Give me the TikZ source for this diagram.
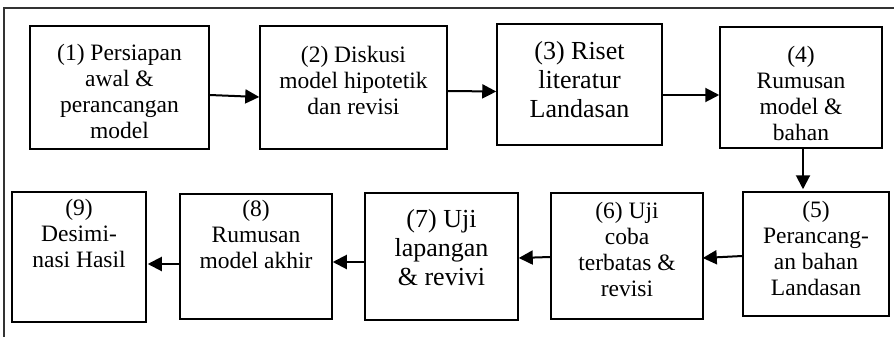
\documentclass[tikz,border=0pt]{standalone}
\usepackage{fontspec}
\setmainfont{Liberation Serif}
\usetikzlibrary{arrows.meta}
\begin{document}
\begin{tikzpicture}[x=1pt,y=-1pt,
  stepbox/.style={draw,line width=1.5pt,inner sep=0pt},
  steptext/.style={align=center,inner sep=0pt,anchor=north,font=\fontsize{23.5}{26}\selectfont},
  bigtext/.style={steptext,font=\fontsize{26}{29}\selectfont},
  flow/.style={line width=2pt,-{Triangle[length=14pt,width=14pt]}}]
  \useasboundingbox (0,0) rectangle (894,337);
  % outer frame (cut off at right and bottom)
  \draw[line width=1.5pt,black!80] (4,337) -- (4,8) -- (894,8);
  % top row
  \node[stepbox,minimum width=179pt,minimum height=123pt] (s1) at (119.5,87.5) {};
  \node[stepbox,minimum width=187pt,minimum height=123pt] (s2) at (353.5,87.5) {};
  \node[stepbox,minimum width=165pt,minimum height=121pt] (s3) at (579.5,84.5) {};
  \node[stepbox,minimum width=162pt,minimum height=121pt] (s4) at (801,87.5) {};
  % bottom row
  \node[stepbox,minimum width=146pt,minimum height=124pt] (s5) at (816,254) {};
  \node[stepbox,minimum width=152pt,minimum height=126pt] (s6) at (627,256) {};
  \node[stepbox,minimum width=153pt,minimum height=127pt] (s7) at (441.5,256.5) {};
  \node[stepbox,minimum width=152pt,minimum height=125pt] (s8) at (256,256.5) {};
  \node[stepbox,minimum width=134pt,minimum height=130pt] (s9) at (79,257) {};
  % texts
  \node[steptext] (t1) at ([yshift=-19pt]s1.north){(1) Persiapan\\awal \&\\perancangan\\model};
  \node[steptext] (t2) at ([yshift=-21pt]s2.north){(2) Diskusi\\model hipotetik\\dan revisi};
  \node[bigtext] (t3) at ([yshift=-18pt]s3.north){(3) Riset\\literatur\\Landasan};
  \node[steptext] (t4) at ([yshift=-20pt]s4.north){(4)\\Rumusan\\model \&\\bahan};
  \node[steptext] (t5) at ([yshift=-10pt]s5.north){(5)\\Perancang-\\an bahan\\Landasan};
  \node[steptext] (t6) at ([yshift=-10pt]s6.north){(6) Uji\\coba\\terbatas \&\\revisi};
  \node[bigtext] (t7) at ([yshift=-17pt]s7.north){(7) Uji\\lapangan\\\& revivi};
  \node[steptext] (t8) at ([yshift=-7pt]s8.north){(8)\\Rumusan\\model akhir};
  \node[steptext] (t9) at ([yshift=-8pt]s9.north){(9)\\Desimi-\\nasi Hasil};
  % arrows
  \draw[flow] ([yshift=-7.5pt]s1.east) -- ([yshift=-9.5pt]s2.west);
  \draw[flow] ([yshift=-3.5pt]s2.east) -- ([yshift=-7pt]s3.west);
  \draw[flow] ([yshift=-10.5pt]s3.east) -- ([yshift=-7.5pt]s4.west);
  \draw[flow] ([xshift=2pt]s4.south) -- ([xshift=-13pt,yshift=2pt]s5.north);
  \draw[flow] ([yshift=-2pt]s5.west) -- ([yshift=-2pt,xshift=-1pt]s6.east);
  \draw[flow] ([yshift=-1pt]s6.west) -- ([yshift=-1.5pt]s7.east);
  \draw[flow] ([yshift=-5.5pt]s7.west) -- ([yshift=-5.5pt]s8.east);
  \draw[flow] ([yshift=-7.5pt]s8.west) -- ([yshift=-7pt,xshift=1pt]s9.east);
\end{tikzpicture}
\end{document}
